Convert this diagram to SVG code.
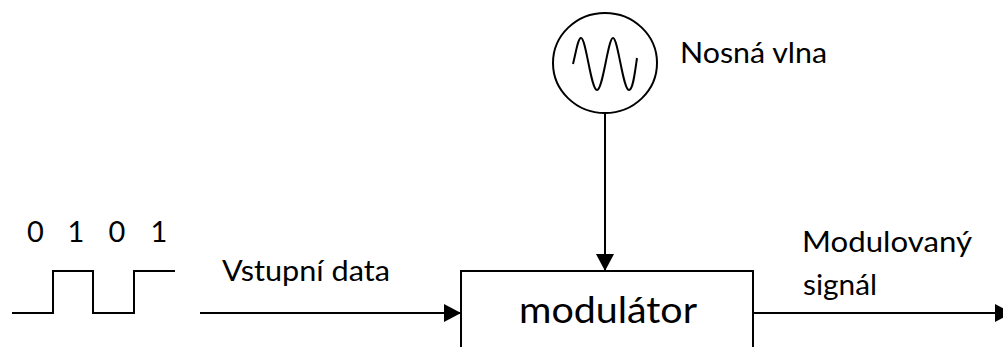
<svg xmlns="http://www.w3.org/2000/svg" width="1003" height="347" viewBox="0 0 1003 347">
  <style>
    .ln { fill: none; stroke: #000; stroke-width: 2; }
    .lbl { font-family: Lato, "Open Sans", "Liberation Sans", sans-serif; font-size: 29px; fill: #000; }
    .big { font-family: Lato, "Open Sans", "Liberation Sans", sans-serif; font-size: 37px; fill: #000; }
  </style>
  <defs>
    <marker id="head" markerUnits="userSpaceOnUse" markerWidth="17" markerHeight="18" refX="17" refY="9" orient="auto">
      <path d="M0,0 L17,9 L0,18 z" fill="#000"/>
    </marker>
  </defs>
  <rect width="1003" height="347" fill="#fff"/>

  <!-- binary input: bit labels and square wave -->
  <g id="data-source">
    <text class="lbl" x="35.5" y="242" text-anchor="middle">0</text>
    <text class="lbl" x="76" y="242" text-anchor="middle">1</text>
    <text class="lbl" x="117" y="242" text-anchor="middle">0</text>
    <text class="lbl" x="159" y="242" text-anchor="middle">1</text>
    <polyline class="ln" points="12,313 53,313 53,271 93,271 93,313 134,313 134,271 175,271"/>
  </g>

  <!-- carrier generator -->
  <g id="carrier">
    <ellipse class="ln" cx="605" cy="63" rx="52" ry="50"/>
    <path class="ln" d="M573,64 C576,52 578,38 581,38 C586,38 591,90 597,90 C603,90 608,38 613,38 C618,38 623,90 629,90 C633,90 635,72 637,58"/>
    <text class="lbl" x="680" y="63" textLength="147" lengthAdjust="spacingAndGlyphs">Nosná vlna</text>
  </g>

  <!-- modulator block -->
  <g id="modulator">
    <rect class="ln" x="461" y="271" width="292" height="100"/>
    <text class="big" x="519" y="323" textLength="178" lengthAdjust="spacingAndGlyphs">modulátor</text>
  </g>

  <!-- input label -->
  <g id="input-label">
    <text class="lbl" x="222" y="281" textLength="168" lengthAdjust="spacingAndGlyphs">Vstupní data</text>
  </g>

  <!-- output label -->
  <g id="output-label">
    <text class="lbl" x="802" y="252" textLength="170" lengthAdjust="spacingAndGlyphs">Modulovaný</text>
    <text class="lbl" x="803" y="295" textLength="74" lengthAdjust="spacingAndGlyphs">signál</text>
  </g>

  <!-- signal flow -->
  <g id="connectors">
    <line class="ln" x1="200" y1="313" x2="461" y2="313" marker-end="url(#head)"/>
    <line class="ln" x1="605" y1="113" x2="605" y2="271" marker-end="url(#head)"/>
    <line class="ln" x1="753" y1="313" x2="1012" y2="313" marker-end="url(#head)"/>
  </g>
</svg>
